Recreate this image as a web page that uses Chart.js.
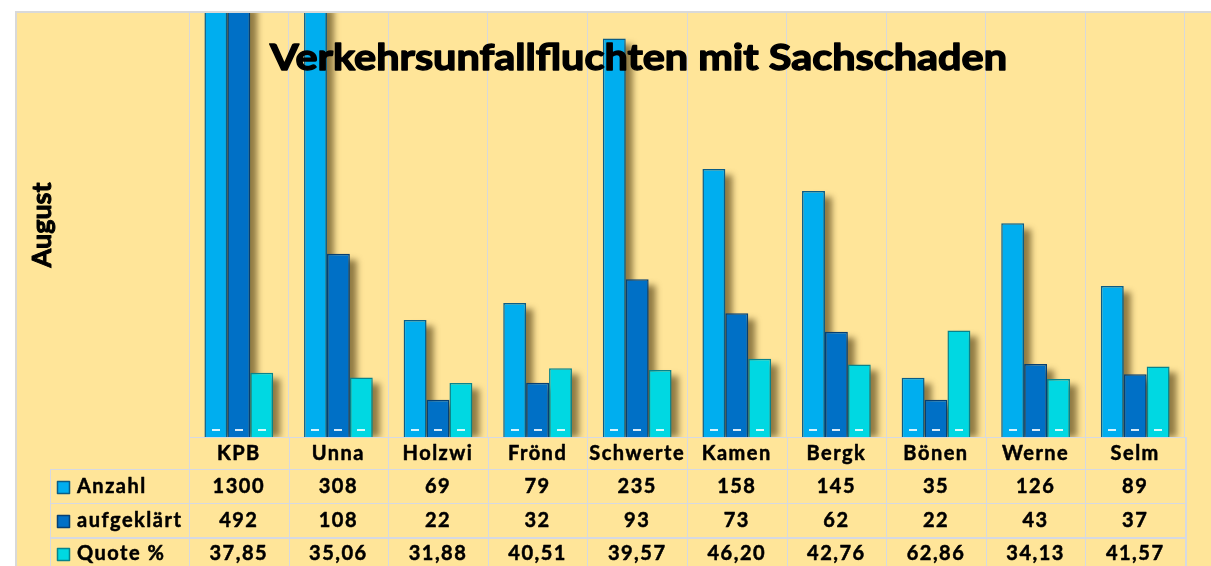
<!DOCTYPE html>
<html lang="de">
<head>
<meta charset="utf-8">
<title>Verkehrsunfallfluchten mit Sachschaden</title>
<script src="https://cdn.jsdelivr.net/npm/chart.js@4.4.1/dist/chart.umd.min.js"></script>
<style>
  html, body { margin: 0; padding: 0; background: #fff; }
  #wrap { width: 1211px; height: 566px; position: relative; overflow: hidden; }
</style>
</head>
<body>
<div id="wrap"><canvas id="chart" width="1211" height="566"></canvas></div>
<script>
// data
const categories = ['KPB', 'Unna', 'Holzwi', 'Frönd', 'Schwerte', 'Kamen', 'Bergk', 'Bönen', 'Werne', 'Selm'];
const anzahl = [1300, 308, 69, 79, 235, 158, 145, 35, 126, 89];
const aufgeklaert = [492, 108, 22, 32, 93, 73, 62, 22, 43, 37];
const quote = [37.85, 35.06, 31.88, 40.51, 39.57, 46.20, 42.76, 62.86, 34.13, 41.57];
const seriesNames = ['Anzahl', 'aufgeklärt', 'Quote %'];
const yMax = 250;

const titleText = 'Verkehrsunfallfluchten mit Sachschaden';
const axisTitle = 'August';

const FONT = 'Lato, "DejaVu Sans", sans-serif';
const BG = '#FFE599';
const GRID = '#D9D9D9';
const fills = ['#00AEEF', '#0070C6', '#00D8E2'];
const borders = ['#0A5C86', '#063F72', '#07838C'];

function fmtQuote(v) {
    return v.toFixed(2).replace('.', ',');
}

// fill plus a thin stroke, the original font is heavier than Lato bold
function boldText(ctx, txt, x, y, w) {
    ctx.lineWidth = w;
    ctx.strokeStyle = '#000';
    ctx.strokeText(txt, x, y);
    ctx.fillText(txt, x, y);
}

// yellow background + outer border
const backgroundPlugin = {
    id: 'background',
    beforeDraw(chart) {
        const ctx = chart.ctx;
        ctx.save();
        ctx.fillStyle = '#fff';
        ctx.fillRect(0, 0, chart.width, chart.height);
        ctx.fillStyle = BG;
        ctx.fillRect(16, 12, chart.width - 16, chart.height - 12);
        ctx.strokeStyle = GRID;
        ctx.lineWidth = 2;
        ctx.beginPath();
        ctx.moveTo(16, chart.height);
        ctx.lineTo(16, 12);
        ctx.lineTo(chart.width, 12);
        ctx.stroke();
        ctx.restore();
    }
};

// soft brown shadow on the right of every bar
const shadowPlugin = {
    id: 'barShadow',
    beforeDatasetsDraw(chart) {
        const ctx = chart.ctx;
        const area = chart.chartArea;
        ctx.save();
        ctx.beginPath();
        ctx.rect(area.left, area.top, area.right - area.left, area.bottom - area.top);
        ctx.clip();
        ctx.filter = 'blur(3px)';
        ctx.fillStyle = 'rgba(70, 52, 10, 0.6)';
        chart.getSortedVisibleDatasetMetas().forEach(meta => {
            meta.data.forEach(bar => {
                const top = Math.max(bar.y, area.top - 10);
                ctx.fillRect(bar.x - bar.width / 2 + 7, top + 6, bar.width, bar.base - top - 6);
            });
        });
        ctx.restore();
    },
    afterDatasetsDraw(chart) {
        const ctx = chart.ctx;
        ctx.save();
        // little white highlight near the bottom of each bar
        chart.getSortedVisibleDatasetMetas().forEach(meta => {
            meta.data.forEach(bar => {
                ctx.fillStyle = 'rgba(255,255,255,0.85)';
                ctx.fillRect(Math.round(bar.x - 4), Math.round(bar.base - 8), 8, 2);
            });
        });
        ctx.restore();
    }
};

// title over the plot, rotated axis title, data table underneath
const textPlugin = {
    id: 'texts',
    afterDraw(chart) {
        const ctx = chart.ctx;
        const area = chart.chartArea;
        const x = chart.scales.x;
        ctx.save();
        ctx.fillStyle = '#000';
        ctx.lineJoin = 'round';

        // title
        ctx.font = 'bold 37px ' + FONT;
        ctx.textBaseline = 'alphabetic';
        ctx.textAlign = 'left';
        const tw = ctx.measureText(titleText).width;
        ctx.save();
        ctx.translate(270, 70);
        ctx.scale(737 / tw, 1);
        boldText(ctx, titleText, 0, 0, 1.4);
        ctx.restore();

        // rotated "August"
        ctx.save();
        ctx.translate(42, 225);
        ctx.rotate(-Math.PI / 2);
        ctx.font = 'bold 27px ' + FONT;
        ctx.textAlign = 'center';
        ctx.textBaseline = 'middle';
        boldText(ctx, axisTitle, 0, 0, 1);
        ctx.restore();

        // table grid
        const tableLeft = 50;
        const rowLines = [area.bottom, 469, 503, 537];
        const bottom = chart.height;
        ctx.strokeStyle = '#D6D9E2';
        ctx.lineWidth = 1;
        ctx.beginPath();
        ctx.moveTo(area.left, area.bottom + 0.5);
        ctx.lineTo(area.right, area.bottom + 0.5);
        for (let i = 1; i < rowLines.length; i++) {
            ctx.moveTo(tableLeft, rowLines[i] + 0.5);
            ctx.lineTo(area.right, rowLines[i] + 0.5);
        }
        ctx.moveTo(tableLeft + 0.5, rowLines[1]);
        ctx.lineTo(tableLeft + 0.5, bottom);
        for (let i = 0; i <= categories.length; i++) {
            const gx = Math.round(x.getPixelForValue(i - 0.5)) + 0.5;
            ctx.moveTo(gx, area.bottom);
            ctx.lineTo(gx, bottom);
        }
        ctx.stroke();
        ctx.lineWidth = 2;
        ctx.beginPath();
        ctx.moveTo(tableLeft, 538);
        ctx.lineTo(area.right, 538);
        ctx.moveTo(area.right + 1, area.bottom);
        ctx.lineTo(area.right + 1, bottom);
        ctx.stroke();

        // category labels
        ctx.font = 'bold 20px ' + FONT;
        ctx.textAlign = 'center';
        ctx.textBaseline = 'middle';
        ctx.letterSpacing = '1.5px';
        categories.forEach((c, i) => {
            boldText(ctx, c, x.getPixelForValue(i), 454, 0.5);
        });

        // rows
        const rows = [anzahl.map(String), aufgeklaert.map(String), quote.map(fmtQuote)];
        const rowY = [487, 521, 554];
        rows.forEach((vals, r) => {
            // legend key
            ctx.fillStyle = fills[r];
            ctx.fillRect(57, rowY[r] - 6, 13, 13);
            ctx.strokeStyle = borders[r];
            ctx.lineWidth = 1.5;
            ctx.strokeRect(57.5, rowY[r] - 5.5, 12, 12);
            ctx.fillStyle = '#000';
            ctx.textAlign = 'left';
            boldText(ctx, seriesNames[r], 77, rowY[r], 0.5);
            ctx.textAlign = 'center';
            vals.forEach((v, i) => {
                boldText(ctx, v, x.getPixelForValue(i), rowY[r], 0.5);
            });
        });
        ctx.restore();
    }
};

const seriesData = [anzahl, aufgeklaert, quote];

new Chart(document.getElementById('chart'), {
    type: 'bar',
    data: {
        labels: categories,
        datasets: seriesData.map((d, i) => ({
            label: seriesNames[i],
            data: d,
            backgroundColor: fills[i],
            borderColor: borders[i],
            borderWidth: 1.5,
            borderSkipped: 'bottom',
            categoryPercentage: 0.69,
            barPercentage: 1
        }))
    },
    options: {
        responsive: false,
        animation: false,
        layout: { padding: { left: 189, top: 13, right: 26, bottom: 129 } },
        plugins: {
            legend: { display: false },
            tooltip: { enabled: false },
            title: { display: false }
        },
        scales: {
            x: {
                offset: true,
                grid: {
                    offset: true,
                    color: GRID,
                    lineWidth: c => (c.index === categories.length ? 2 : 1),
                    drawTicks: false
                },
                border: { display: false },
                ticks: { display: false }
            },
            y: { display: false, min: 0, max: yMax }
        }
    },
    plugins: [backgroundPlugin, shadowPlugin, textPlugin]
});
</script>
</body>
</html>
